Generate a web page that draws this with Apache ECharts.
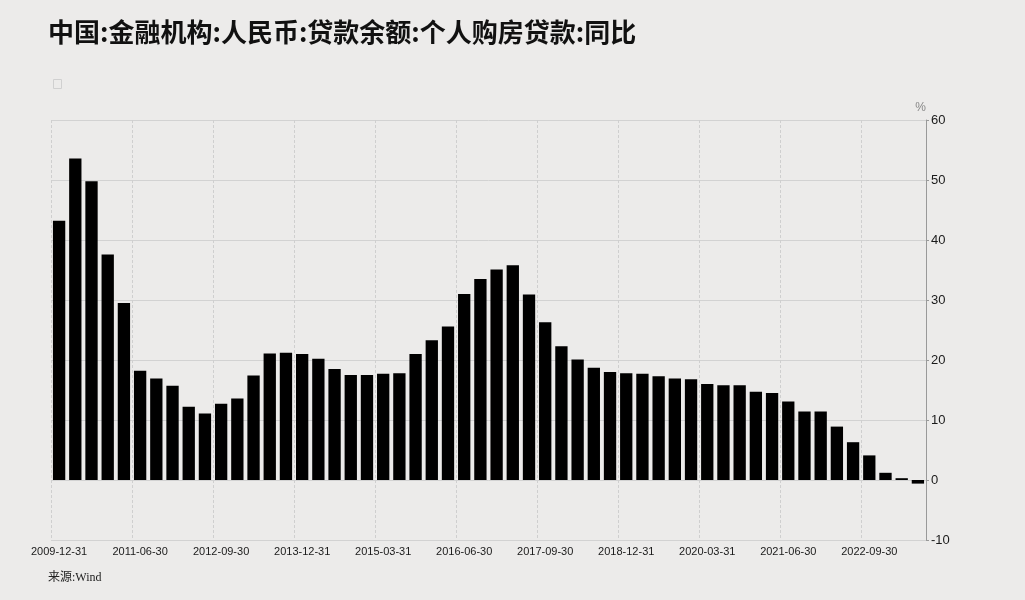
<!DOCTYPE html>
<html><head><meta charset="utf-8">
<script src="https://cdn.jsdelivr.net/npm/echarts@6/dist/echarts.min.js"></script>
<style>html,body{margin:0;padding:0;background:#ecebea;}#c{width:1025px;height:600px;}</style>
</head><body><div id="c"></div>
<script>
const titleText = '中国:金融机构:人民币:贷款余额:个人购房贷款:同比';
const sourceText = '来源:Wind';
const categories = [
 '2009-12-31','2010-06-30','2010-09-30','2010-12-31','2011-03-31',
 '2011-06-30','2011-09-30','2011-12-31','2012-03-31','2012-06-30',
 '2012-09-30','2012-12-31','2013-03-31','2013-06-30','2013-09-30',
 '2013-12-31','2014-03-31','2014-06-30','2014-09-30','2014-12-31',
 '2015-03-31','2015-06-30','2015-09-30','2015-12-31','2016-03-31',
 '2016-06-30','2016-09-30','2016-12-31','2017-03-31','2017-06-30',
 '2017-09-30','2017-12-31','2018-03-31','2018-06-30','2018-09-30',
 '2018-12-31','2019-03-31','2019-06-30','2019-09-30','2019-12-31',
 '2020-03-31','2020-06-30','2020-09-30','2020-12-31','2021-03-31',
 '2021-06-30','2021-09-30','2021-12-31','2022-03-31','2022-06-30',
 '2022-09-30','2022-12-31','2023-03-31','2023-06-30'
];
const yoyValues = [
 43.2, 53.6, 49.8, 37.6, 29.5,
 18.2, 16.9, 15.7, 12.2, 11.1,
 12.7, 13.6, 17.4, 21.1, 21.2,
 21.0, 20.2, 18.5, 17.5, 17.5,
 17.7, 17.8, 21.0, 23.3, 25.6,
 31.0, 33.5, 35.1, 35.8, 30.9,
 26.3, 22.3, 20.1, 18.7, 18.0,
 17.8, 17.7, 17.3, 16.9, 16.8,
 16.0, 15.8, 15.8, 14.7, 14.5,
 13.1, 11.4, 11.4, 8.9, 6.3,
 4.1, 1.2, 0.3, -0.6
];
const yMin = -10, yMax = 60, yStep = 10;

const chart = echarts.init(document.getElementById('c'), null, {renderer:'canvas'});
chart.setOption({
  backgroundColor: '#ecebea',
  animation: false,
  title: {
    text: titleText, left: 43, top: 14,
    textStyle: {fontFamily: '"Noto Sans CJK SC"', fontWeight: 'bold', fontSize: 26, color: '#111'}
  },
  graphic: [
    {type: 'rect', left: 51, top: 77, shape: {width: 8, height: 9}, style: {fill: 'none', stroke: '#d0d0d0', lineWidth: 1}},
    {type: 'text', left: 48, top: 572, style: {text: sourceText, font: '12px "Liberation Serif", "Noto Sans CJK SC"', fill: '#222'}}
  ],
  grid: {left: 51, right: 99, top: 120, bottom: 60},
  xAxis: {
    type: 'category', data: categories, boundaryGap: true,
    axisLine: {show: false},
    axisTick: {show: false},
    axisLabel: {interval: 4, color: '#1a1a1a', fontSize: 11, fontFamily: '"Liberation Sans Narrow", "Liberation Sans", Arial', margin: 6},
    splitLine: {show: true, interval: 4, lineStyle: {color: '#cfcfcf', type: [3, 2], width: 1}}
  },
  yAxis: {
    type: 'value', position: 'right', min: yMin, max: yMax, interval: yStep,
    name: '%', nameGap: 6, nameTextStyle: {color: '#888', fontSize: 12, align: 'right', padding: [0, 0, 0, 0]},
    axisLine: {show: true, lineStyle: {color: '#999'}},
    axisTick: {show: true, length: 3, lineStyle: {color: '#999'}},
    axisLabel: {color: '#1a1a1a', fontSize: 13, fontFamily: '"Liberation Sans", Arial', margin: 5},
    splitLine: {show: true, lineStyle: {color: '#d2d2d2', width: 1}}
  },
  series: [{
    type: 'bar', data: yoyValues, barCategoryGap: '24%',
    itemStyle: {color: '#000'}
  }]
});
</script></body></html>
